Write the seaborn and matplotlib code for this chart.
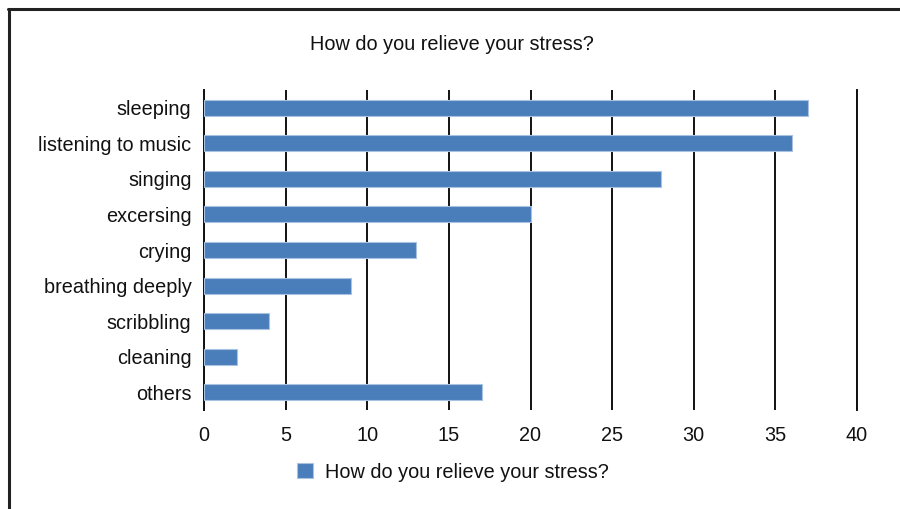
import matplotlib
matplotlib.use("Agg")
import matplotlib.pyplot as plt
import seaborn as sns
import pandas as pd
from matplotlib.patches import Patch
from matplotlib.lines import Line2D

categories = ["sleeping", "listening to music", "singing", "excersing", "crying",
              "breathing deeply", "scribbling", "cleaning", "others"]
values = [37, 36, 28, 20, 13, 9, 4, 2, 17]
series_name = "How do you relieve your stress?"
title = "How do you relieve your stress?"
xticks = [0, 5, 10, 15, 20, 25, 30, 35, 40]

sns.set_theme(style="white")
plt.rcParams['font.family'] = ['Liberation Sans', 'DejaVu Sans']

df = pd.DataFrame({"category": categories, "value": values})

fig = plt.figure(figsize=(9, 5.09), dpi=100)
ax = fig.add_axes([204/900, 1-410/509, (857-204)/900, (410-90)/509])

FS = 14.3
bar_color = "#4a7ebb"
sns.barplot(data=df, x="value", y="category", orient="h", color=bar_color,
            width=0.45, ax=ax, edgecolor="#a9c2e2", linewidth=0.8, saturation=1, zorder=3)

ax.set_xlim(0, 40)
ax.set_ylim(len(categories) - 0.5, -0.5)
ax.set_xticks(xticks)
ax.set_xticklabels([str(t) for t in xticks])
ax.set_xlabel("")
ax.set_ylabel("")
ax.grid(axis="x", color="#111111", linewidth=1.4, zorder=0)
ax.grid(axis="y", visible=False)
for s in ["top", "bottom"]:
    ax.spines[s].set_visible(False)
for s in ["left", "right"]:
    ax.spines[s].set_visible(True)
    ax.spines[s].set_color("#111111")
    ax.spines[s].set_linewidth(1.4)
ax.tick_params(axis="both", length=0, labelsize=FS, colors="#111111")
ax.tick_params(axis="y", pad=9)
ax.tick_params(axis="x", pad=11.5)
ax.set_facecolor("white")

fig.text(451.5/900, 1-45/509, title, ha="center", va="center", fontsize=FS, color="#111111")

handle = Patch(facecolor=bar_color, edgecolor="#a9c2e2", linewidth=0.8)
fig.legend([handle], [series_name], loc="center", bbox_to_anchor=(453/900, 1-472/509),
           frameon=False, fontsize=FS, handlelength=0.8, handleheight=0.8,
           handletextpad=0.6, labelcolor="#111111")

# outer frame (left and top edges)
fig.add_artist(Line2D([8.5/900, 8.5/900], [0, 1-9/509], transform=fig.transFigure,
                      color="#222222", linewidth=2.2))
fig.add_artist(Line2D([7.5/900, 1], [1-9/509, 1-9/509], transform=fig.transFigure,
                      color="#222222", linewidth=2.2))

fig.savefig("out.png", dpi=100, facecolor="white")
